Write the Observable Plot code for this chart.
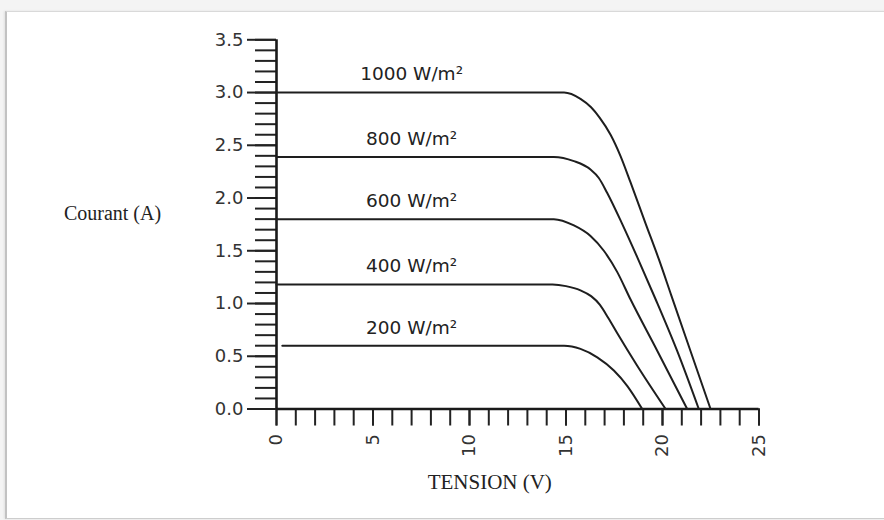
<!DOCTYPE html>
<html><head><meta charset="utf-8">
<script src="https://cdn.jsdelivr.net/npm/d3@7"></script>
<script src="https://cdn.jsdelivr.net/npm/@observablehq/plot@0.6"></script>
<style>
html,body{margin:0;padding:0;background:#f4f4f4;width:884px;height:520px;overflow:hidden;}
#frame{position:absolute;left:5px;top:11px;width:879px;height:506px;background:#fff;border-left:2px solid #c2c2c2;border-top:1px solid #d9d9d9;border-bottom:1px solid #cdcdcd;box-shadow:-1px 0 2px rgba(0,0,0,0.08);}
#chart{position:absolute;left:0;top:0;}
</style></head><body><div id="frame"></div><div id="chart"></div>
<script>
// Tick values
const xMajor = [0, 5, 10, 15, 20, 25];
const xMinor = [0,1,2,3,4,5,6,7,8,9,10,11,12,13,14,15,16,17,18,19,20,21,22,23,24,25];
const yMajor = [0, 0.5, 1.0, 1.5, 2.0, 2.5, 3.0, 3.5];
const yMinor = [0,0.1,0.2,0.3,0.4,0.5,0.6,0.7,0.8,0.9,1.0,1.1,1.2,1.3,1.4,1.5,1.6,1.7,1.8,1.9,2.0,2.1,2.2,2.3,2.4,2.5,2.6,2.7,2.8,2.9,3.0,3.1,3.2,3.3,3.4,3.5];

// Series (irradiance levels)
const series = ["1000 W/m²", "800 W/m²", "600 W/m²", "400 W/m²", "200 W/m²"];
const isc = [3.0, 2.39, 1.8, 1.18, 0.6];

const v1000 = [0, 14.9, 15.75, 16.3, 16.75, 17.31, 17.82, 18.34, 19.12, 19.81, 20.45, 21.45, 22.49];
const i1000 = [3.0, 3.0, 2.94, 2.86, 2.76, 2.60, 2.40, 2.15, 1.76, 1.42, 1.08, 0.55, 0];
const v800 = [0, 14.37, 15.41, 16.27, 16.7, 17.13, 17.91, 18.69, 19.62, 20.76, 21.88];
const i800 = [2.39, 2.39, 2.35, 2.27, 2.19, 2.05, 1.755, 1.44, 1.05, 0.55, 0];
const v600 = [0, 14.37, 15.41, 16.27, 16.96, 17.65, 18.34, 19.72, 21.28];
const i600 = [1.8, 1.8, 1.74, 1.64, 1.50, 1.30, 1.04, 0.555, 0];
const v400 = [0, 14.3, 15.0, 15.75, 16.3, 16.75, 17.2, 17.65, 18.69, 20.16];
const i400 = [1.18, 1.18, 1.165, 1.125, 1.07, 0.99, 0.86, 0.72, 0.41, 0];
const v200 = [0.3, 14.9, 15.75, 16.62, 17.48, 18.17, 18.95];
const i200 = [0.6, 0.6, 0.57, 0.49, 0.365, 0.22, 0];

const volts = [v1000, v800, v600, v400, v200];
const amps = [i1000, i800, i600, i400, i200];
const rows = series.flatMap((s, k) => volts[k].map((v, j) => ({series: s, v, i: amps[k][j]})));

const chart = Plot.plot({
  width: 884, height: 520,
  marginLeft: 276, marginRight: 125.5, marginTop: 39.3, marginBottom: 111.5,
  x: {domain: [0, 25]},
  y: {domain: [0, 3.5]},
  style: {background: "transparent", fontFamily: "DejaVu Sans", fontSize: "17px", color: "#222"},
  marks: [
    Plot.axisY(yMinor, {tickSize: 21, text: null, strokeWidth: 2, stroke: "#222", label: null}),
    Plot.axisY(yMajor, {tickSize: 29, tickPadding: 4, tickFormat: d3.format(".1f"), strokeWidth: 2, stroke: "#222", fill: "#333", fontSize: 18, label: null, ariaLabel: "yticks"}),
    Plot.axisX(xMinor, {tickSize: 17, text: null, strokeWidth: 2, stroke: "#222", label: null}),
    Plot.axisX(xMajor, {tickSize: 17, tickRotate: -90, tickPadding: 8, strokeWidth: 2, stroke: "#222", fill: "#333", fontSize: 18, label: null, ariaLabel: "xticks"}),
    Plot.ruleX([0], {y1: 0, y2: 3.5, strokeWidth: 2.6, stroke: "#1a1a1a"}),
    Plot.ruleY([0], {x1: 0, x2: 25, strokeWidth: 2.6, stroke: "#1a1a1a"}),
    Plot.line(rows, {x: "v", y: "i", z: "series", curve: "monotone-x", stroke: "#1e1e1e", strokeWidth: 2}),
    Plot.text(series, {x: () => 7, y: (d, k) => isc[k], text: d => d, dy: -18, fontSize: 18.5, fill: "#222", textAnchor: "middle", ariaLabel: "irradiance"}),
    Plot.text(["Courant (A)"], {frameAnchor: "left", text: d => d, dx: -164, dy: -11, textAnchor: "middle", fontFamily: "Liberation Serif", fontSize: 20, fill: "#222"}),
    Plot.text(["TENSION (V)"], {frameAnchor: "bottom", text: d => d, dx: -28, dy: 79.5, textAnchor: "middle", fontFamily: "Liberation Serif", fontSize: 21, fill: "#222"})
  ]
});
document.getElementById("chart").appendChild(chart);
const svg = d3.select(chart);
svg.selectAll("g[aria-label='yticks'] text").attr("letter-spacing", "1.2px");
svg.selectAll("g[aria-label='xticks'] text").attr("letter-spacing", "2.5px");
svg.selectAll("g[aria-label='irradiance'] text").attr("letter-spacing", "1.2px");
</script></body></html>
